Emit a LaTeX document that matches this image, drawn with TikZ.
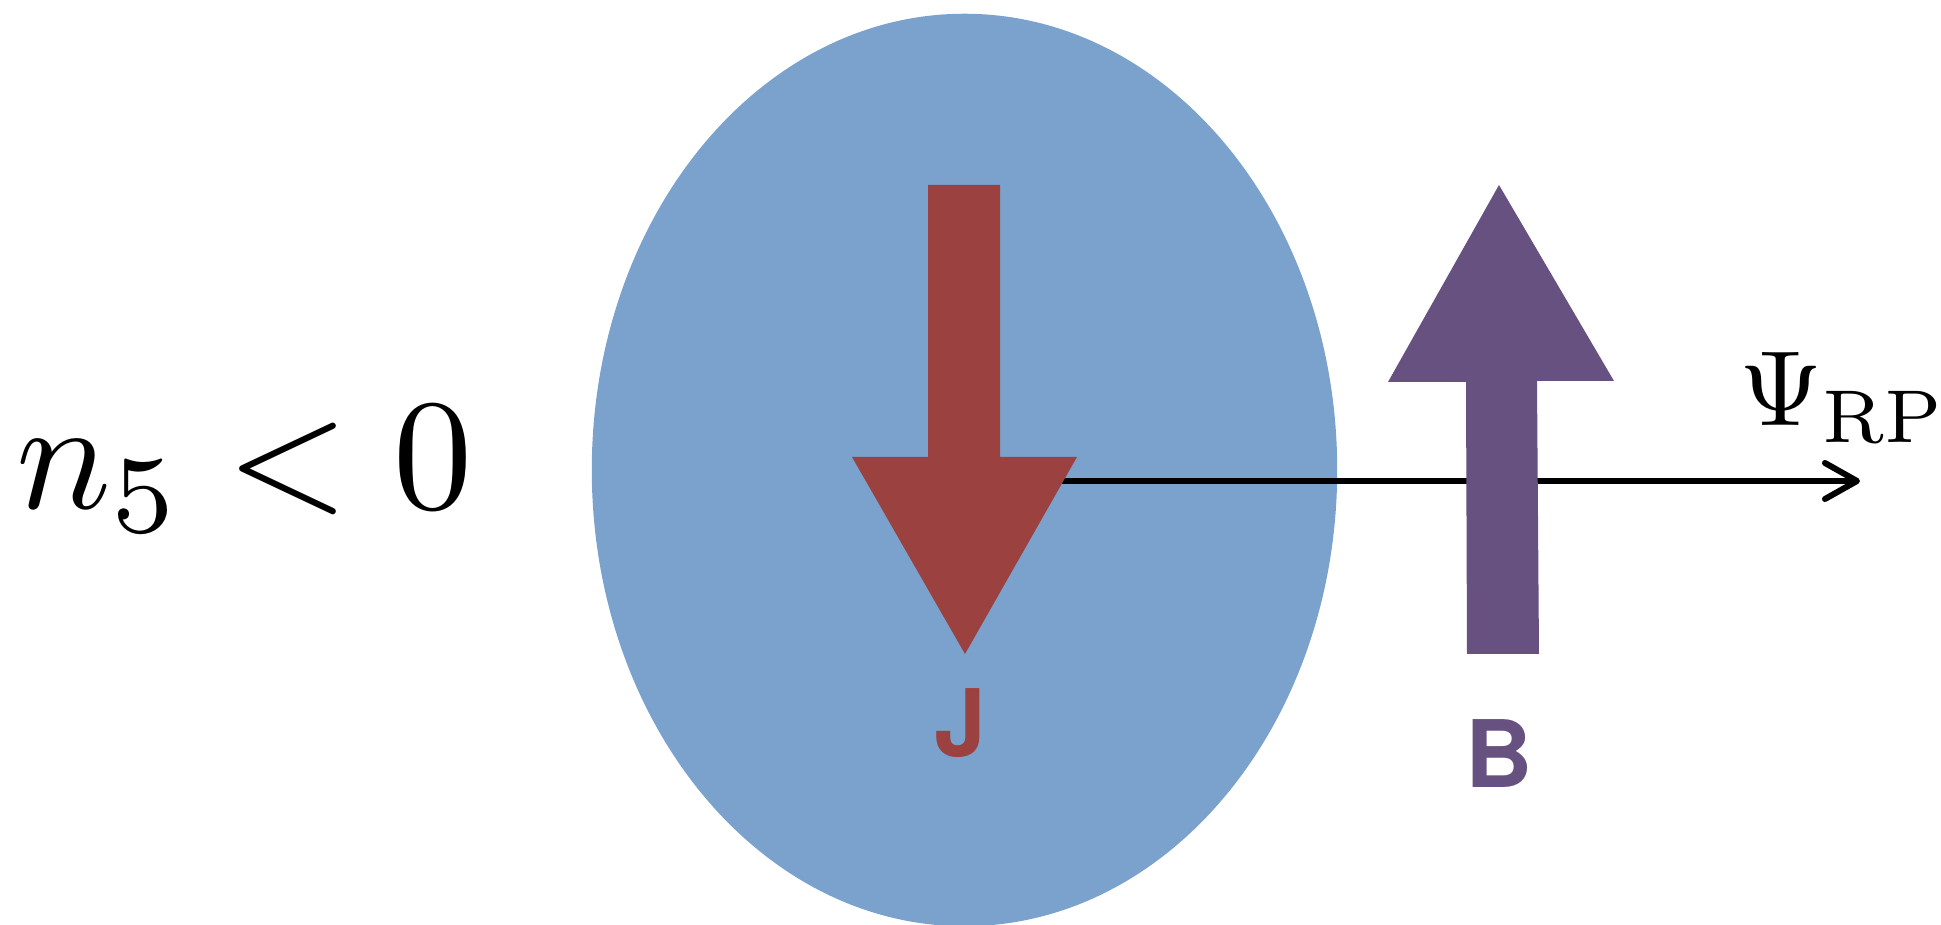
\documentclass[tikz,border=0pt]{standalone}
\usepackage{fontspec}
\newfontfamily\labfont{TeX Gyre Heros}
\usetikzlibrary{arrows.meta}
\definecolor{blobblue}{RGB}{123,162,204}
\definecolor{jred}{RGB}{155,65,64}
\definecolor{bpurple}{RGB}{102,81,128}
\tikzset{
  txt/.style={inner sep=0pt, outer sep=0pt},
  biglabel/.style={txt, scale=4.5, anchor=base west},
  psilabel/.style={txt, scale=3.04, anchor=base west},
  vlabel/.style={txt, scale=2.65, anchor=base west, font=\labfont\bfseries},
  axisline/.style={line width=0.06cm, -{Straight Barb[length=3.2mm,width=3.6mm,round]}},
}
\begin{document}
\begin{tikzpicture}[x=0.01cm,y=-0.01cm]
\useasboundingbox (0,0) rectangle (1941,925);
% blob
\fill[blobblue] (964.5,470) ellipse [x radius=3.725cm, y radius=4.56cm];
% axis
\coordinate (axstart) at (964,481);
\coordinate (axend) at (1860,481);
\draw[axisline] (axstart) -- (axend);
% J arrow (down)
\fill[jred] (928,185) -- (1000,185) -- (1000,457) -- (1077,457) -- (965,654)
  -- (852,457) -- (928,457) -- cycle;
% B arrow (up)
\fill[bpurple] (1499,185) -- (1614,381) -- (1537,381) -- (1539,654) -- (1467,654)
  -- (1466,382) -- (1388,382) -- cycle;
% labels
\node[biglabel] (n5) at (17,509) {$n_5<0$};
\node[psilabel] (psi) at (1739,426) {$\Psi_{\mathrm{RP}}$};
\node[vlabel, text=jred] (J) at (934,757) {J};
\node[vlabel, text=bpurple] (B) at (1465,788) {B};
\end{tikzpicture}
\end{document}
